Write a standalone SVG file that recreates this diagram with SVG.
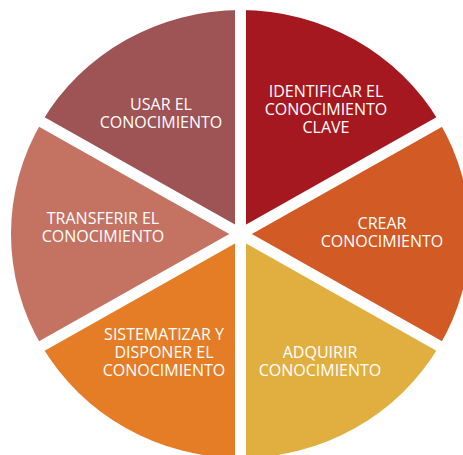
<svg xmlns="http://www.w3.org/2000/svg" width="463" height="455" viewBox="0 0 463 455">
<style>
.lbl{font-family:"Open Sans","Liberation Sans",sans-serif;font-size:16px;fill:#ffffff;text-anchor:middle}
.gap{stroke:#ffffff;stroke-width:11;fill:none}
</style>
<rect width="463" height="455" fill="#ffffff"/>
<g id="identificar">
<path d="M240.5,234 L240.5,10 A229.5,224 0 0 1 439.25,122 Z" fill="#A5181F"/>
<text class="lbl"><tspan x="326" y="97">IDENTIFICAR EL</tspan><tspan x="326" y="115">CONOCIMIENTO</tspan><tspan x="326" y="133">CLAVE</tspan></text>
</g>
<g id="crear">
<path d="M240.5,234 L439.25,122 A229.5,224 0 0 1 439.25,346 Z" fill="#D15A25"/>
<text class="lbl"><tspan x="382" y="228.5">CREAR</tspan><tspan x="382" y="246.5">CONOCIMIENTO</tspan></text>
</g>
<g id="adquirir">
<path d="M240.5,234 L439.25,346 A229.5,224 0 0 1 240.5,458 Z" fill="#E1AF3F"/>
<text class="lbl"><tspan x="320" y="357.5">ADQUIRIR</tspan><tspan x="320" y="375.5">CONOCIMIENTO</tspan></text>
</g>
<g id="sistematizar">
<path d="M240.5,234 L240.5,458 A229.5,224 0 0 1 41.75,346 Z" fill="#E57D26"/>
<text class="lbl"><tspan x="164" y="340">SISTEMATIZAR Y</tspan><tspan x="164" y="357.7">DISPONER EL</tspan><tspan x="164" y="375.5">CONOCIMIENTO</tspan></text>
</g>
<g id="transferir">
<path d="M240.5,234 L41.75,346 A229.5,224 0 0 1 41.75,122 Z" fill="#C47262"/>
<text class="lbl"><tspan x="103" y="224">TRANSFERIR EL</tspan><tspan x="103" y="242">CONOCIMIENTO</tspan></text>
</g>
<g id="usar">
<path d="M240.5,234 L41.75,122 A229.5,224 0 0 1 240.5,10 Z" fill="#9E5354"/>
<text class="lbl"><tspan x="161" y="110">USAR EL</tspan><tspan x="161" y="128">CONOCIMIENTO</tspan></text>
</g>
<g id="connectors">
<line class="gap" x1="240.5" y1="0" x2="240.5" y2="455"/>
<line class="gap" x1="2" y1="99.6" x2="479" y2="368.4"/>
<line class="gap" x1="2" y1="368.4" x2="479" y2="99.6"/>
</g>
</svg>
